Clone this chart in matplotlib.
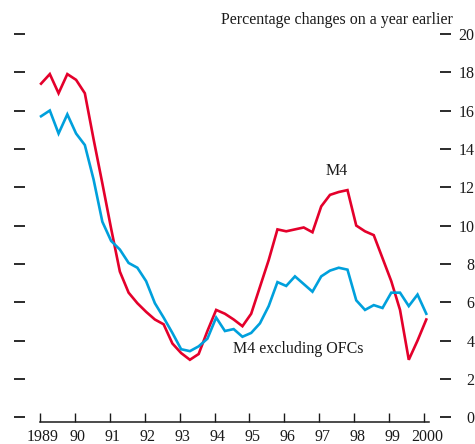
import numpy as np
import matplotlib
matplotlib.use("Agg")
import matplotlib.pyplot as plt
from matplotlib.transforms import ScaledTranslation

plt.rcParams['font.family'] = ['Liberation Serif', 'DejaVu Serif']

# Quarterly observations, 1989 Q1 to 2000 Q1
quarters = 1989.03 + np.arange(45) * 0.2508

m4 = [17.4, 17.9, 16.9, 17.9, 17.6, 16.9, 14.5, 12.2, 9.85, 7.6,
      6.5, 5.95, 5.5, 5.1, 4.85, 3.85, 3.35, 3.0, 3.3, 4.5,
      5.6, 5.4, 5.1, 4.75, 5.4, 6.8, 8.2, 9.8, 9.7, 9.8,
      9.9, 9.65, 11.0, 11.6, 11.75, 11.85, 10.0, 9.7, 9.5, 8.3,
      7.1, 5.6, 3.0, 4.0, 5.1]

m4_ex_ofcs = [15.7, 16.0, 14.8, 15.8, 14.8, 14.2, 12.4, 10.2, 9.2, 8.75,
              8.05, 7.8, 7.1, 5.95, 5.2, 4.4, 3.55, 3.45, 3.7, 4.1,
              5.2, 4.5, 4.6, 4.2, 4.4, 4.9, 5.8, 7.05, 6.85, 7.35,
              6.95, 6.55, 7.35, 7.65, 7.8, 7.7, 6.1, 5.6, 5.85, 5.7,
              6.5, 6.5, 5.8, 6.4, 5.4]

year_ticks = list(range(1989, 2001))
year_labels = ['1989', '90', '91', '92', '93', '94', '95', '96', '97', '98', '99', '2000']
y_ticks = list(range(0, 21, 2))

RED = '#E4002B'
BLUE = '#00A0DC'
INK = '#1a1a1a'

W, H = 475, 444
fig = plt.figure(figsize=(W / 100, H / 100), dpi=100)
ax = fig.add_axes([25 / W, (H - 421.7) / H, (440 - 25) / W, (421.7 - 25) / H])

ax.plot(quarters, m4, color=RED, lw=1.9, solid_joinstyle='miter')
ax.plot(quarters, m4_ex_ofcs, color=BLUE, lw=1.9, solid_joinstyle='miter')

ax.set_xlim(1988.570, 2000.458)
ax.set_ylim(-0.23, 20.46)

for s in ['left', 'right', 'top']:
    ax.spines[s].set_visible(False)
ax.spines['bottom'].set_bounds(1989, 2000.14)
ax.spines['bottom'].set_linewidth(1.1)
ax.spines['bottom'].set_color(INK)

ax.set_xticks(year_ticks)
ax.set_xticklabels(year_labels, fontsize=11.5, color=INK)
ax.tick_params(axis='x', direction='in', length=6.5, width=1.0, color=INK, pad=5)
offset = ScaledTranslation(3 / 100, 0, fig.dpi_scale_trans)
for lab in ax.get_xticklabels():
    lab.set_transform(lab.get_transform() + offset)

ax.set_yticks(y_ticks)
ax.tick_params(axis='y', which='major', left=True, right=True, labelleft=False,
               labelright=True, direction='out', length=7.8, width=1.3,
               color=INK, labelsize=11.5, labelcolor=INK, pad=17)
for lab in ax.get_yticklabels():
    lab.set_horizontalalignment('right')

fig.text(453 / W, 1 - 24 / H, 'Percentage changes on a year earlier',
         ha='right', va='baseline', fontsize=11.5, color=INK)

ax.text(1997.49, 12.85, 'M4', ha='center', va='center', fontsize=11.5, color=INK)
ax.text(1996.40, 3.56, 'M4 excluding OFCs', ha='center', va='center',
        fontsize=11.5, color=INK)

fig.savefig('out.png', dpi=100)
